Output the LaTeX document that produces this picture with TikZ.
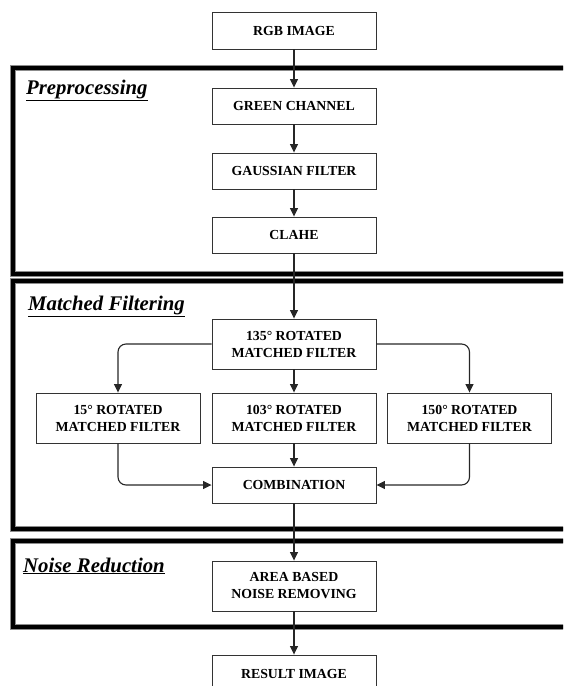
\documentclass[tikz,border=0pt]{standalone}
\usepackage{fontspec}
\setmainfont{Liberation Serif}
\usetikzlibrary{arrows.meta}
\begin{document}
\begin{tikzpicture}[x=1pt,y=-1pt,
  box/.style={draw=black!80, line width=0.9pt, fill=white, minimum width=164pt,
    font=\fontsize{13.8}{17}\selectfont\bfseries, align=center, inner sep=0pt},
  conn/.style={draw=black!85, line width=1.1pt, -{Triangle[length=8.5pt,width=8pt]}},
  frameg/.style={draw=black!45, line width=5.6pt},
  framek/.style={draw=black, line width=4.2pt},
  sectitle/.style={anchor=base west, inner sep=0pt, font=\fontsize{20.8}{24}\selectfont\bfseries\itshape}]
\useasboundingbox (0,0) rectangle (563,686);
\clip (0,0) rectangle (563,686);
% frames
\foreach \a/\b in {68/274, 281/529, 541/627} {
  \draw[frameg] (13,\a) rectangle (640,\b);
  \draw[framek] (13,\a) rectangle (640,\b);
}
\node[sectitle] (t1) at (26,94) {\underline{Preprocessing}};
\node[sectitle] (t2) at (28,310) {\underline{Matched Filtering}};
\node[sectitle] (t3) at (23,572) {\underline{Noise Reduction}};
% boxes
\node[box, minimum height=37pt] (rgb) at (294,30.5) {RGB IMAGE};
\node[box, minimum height=36pt] (green) at (294,106) {GREEN CHANNEL};
\node[box, minimum height=36pt] (gauss) at (294,171) {GAUSSIAN FILTER};
\node[box, minimum height=36pt] (clahe) at (294,235) {CLAHE};
\node[box, minimum height=50pt] (f135) at (294,344) {135° ROTATED\\MATCHED FILTER};
\node[box, minimum height=50pt] (f15) at (118,418) {15° ROTATED\\MATCHED FILTER};
\node[box, minimum height=50pt] (f103) at (294,418) {103° ROTATED\\MATCHED FILTER};
\node[box, minimum height=50pt] (f150) at (469.5,418) {150° ROTATED\\MATCHED FILTER};
\node[box, minimum height=36pt] (comb) at (294,485) {COMBINATION};
\node[box, minimum height=50pt] (area) at (294,586) {AREA BASED\\NOISE REMOVING};
\node[box, minimum height=37pt] (result) at (294,673.5) {RESULT IMAGE};
% connectors
\draw[conn] (rgb) -- (green);
\draw[conn] (green) -- (gauss);
\draw[conn] (gauss) -- (clahe);
\draw[conn] (clahe) -- (f135);
\draw[conn, rounded corners=8pt] (f135.west) -| (f15.north);
\draw[conn, rounded corners=8pt] (f135.east) -| (f150.north);
\draw[conn] (f135) -- (f103);
\draw[conn, rounded corners=8pt] (f15.south) |- (comb.west);
\draw[conn, rounded corners=8pt] (f150.south) |- (comb.east);
\draw[conn] (f103) -- (comb);
\draw[conn] (comb) -- (area);
\draw[conn] (area) -- (result);
\end{tikzpicture}
\end{document}
